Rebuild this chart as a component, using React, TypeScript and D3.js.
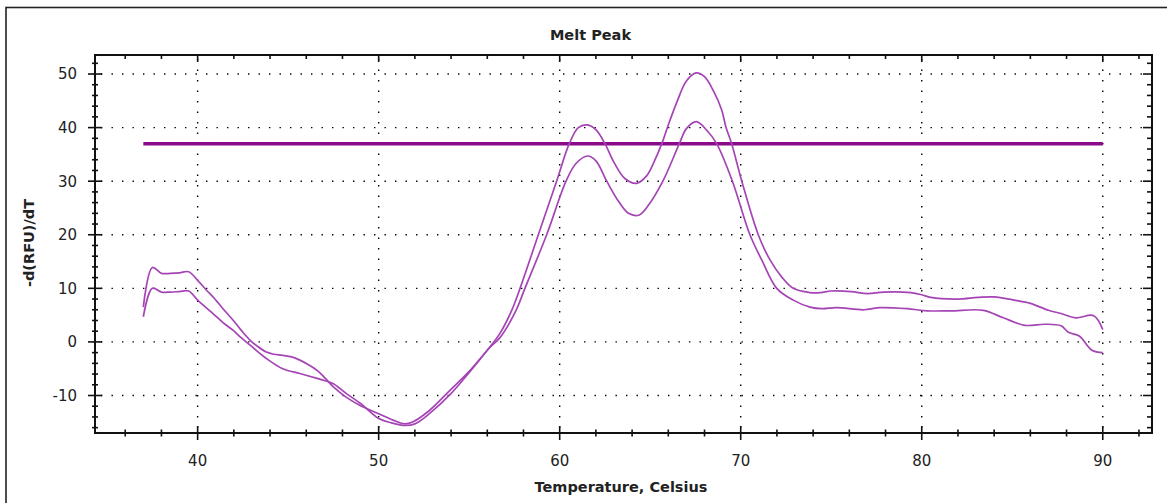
import React from 'react';
import * as d3 from 'd3';

const upperTemps = [37.0, 37.5, 38.0, 38.5, 39.0, 39.5, 40.0, 40.5, 40.85, 41.4, 41.95, 42.4, 42.9, 43.3, 43.8, 44.2, 44.7, 45.2, 45.65, 46.1, 46.6, 47.0, 47.5, 48.2, 49.0, 50.0, 50.8, 51.45, 51.9, 52.8, 53.95, 55.05, 56.15, 56.7, 57.35, 57.81, 58.82, 59.83, 60.53, 61.03, 61.52, 62.0, 62.5, 63.0, 63.6, 64.25, 64.8, 65.2, 65.64, 66.0, 66.5, 67.0, 67.53, 68.0, 68.5, 68.95, 69.19, 69.5, 70.06, 70.97, 71.62, 72.27, 72.9, 73.83, 74.4, 75.0, 76.1, 77.0, 77.9, 79.4, 80.0, 80.5, 82.0, 83.1, 84.0, 85.1, 86.0, 87.0, 87.7, 88.5, 89.5, 90.0];
const upperValues = [6.5, 13.9, 12.8, 12.8, 12.9, 13.1, 11.5, 9.6, 8.4, 6.2, 4.1, 2.2, 0.3, -0.8, -1.9, -2.3, -2.5, -2.8, -3.4, -4.2, -5.3, -6.6, -8.4, -10.3, -11.9, -13.4, -14.6, -15.3, -14.9, -12.8, -9.0, -5.3, -0.9, 1.6, 5.9, 10.0, 20.0, 30.0, 37.0, 40.0, 40.5, 39.6, 37.0, 33.5, 30.5, 29.6, 31.0, 33.5, 37.0, 40.5, 45.0, 48.7, 50.2, 49.5, 46.8, 43.3, 40.0, 37.0, 30.0, 20.0, 15.3, 12.1, 10.0, 9.2, 9.2, 9.5, 9.4, 9.0, 9.3, 9.2, 8.8, 8.3, 8.0, 8.3, 8.4, 7.8, 7.2, 5.9, 5.3, 4.5, 4.9, 2.3];

const lowerTemps = [37.0, 37.5, 38.0, 38.5, 39.0, 39.5, 40.0, 40.85, 41.4, 41.95, 42.4, 42.9, 43.8, 44.7, 45.65, 46.6, 47.0, 47.5, 48.2, 49.0, 50.0, 50.7, 51.45, 52.0, 52.8, 53.95, 55.05, 56.15, 56.7, 57.59, 58.08, 59.28, 60.35, 60.9, 61.55, 62.0, 62.6, 63.2, 63.8, 64.4, 64.9, 65.7, 66.61, 67.0, 67.55, 68.1, 68.67, 69.54, 70.51, 71.16, 71.99, 72.9, 73.83, 74.5, 75.3, 76.8, 77.7, 79.2, 80.3, 81.6, 83.4, 84.5, 85.7, 86.8, 87.7, 88.1, 88.7, 89.4, 90.0];
const lowerValues = [4.7, 10.0, 9.3, 9.3, 9.4, 9.5, 7.8, 5.3, 3.6, 2.2, 0.8, -0.6, -3.1, -5.0, -5.9, -6.8, -7.2, -7.8, -9.6, -11.5, -14.3, -15.1, -15.6, -15.3, -13.4, -9.8, -5.5, -1.0, 0.8, 5.9, 10.0, 20.0, 30.0, 33.3, 34.7, 33.8, 30.0, 26.5, 24.0, 23.7, 25.5, 30.0, 37.0, 39.8, 41.1, 39.6, 37.0, 30.0, 20.0, 15.3, 10.0, 7.8, 6.5, 6.2, 6.4, 6.0, 6.4, 6.2, 5.8, 5.8, 5.9, 4.5, 3.1, 3.3, 3.0, 1.8, 1.1, -1.55, -2.0];

const thresholdValue = 37;
const thresholdStart = 37;
const thresholdEnd = 90;

const xTickValues = [40, 50, 60, 70, 80, 90];
const yTickValues = [-10, 0, 10, 20, 30, 40, 50];
const xMinorTicks = d3.range(36, 93, 2);
const yMinorTicks = d3.range(-16, 53, 2);

const chartTitle = 'Melt Peak';
const xTitle = 'Temperature, Celsius';
const yTitle = '-d(RFU)/dT';

export default function App() {
  const W = 1167, H = 503;
  const left = 95, right = 1152, top = 55, bottom = 433;
  const x = d3.scaleLinear().domain([34.33, 92.72]).range([left, right]);
  const y = d3.scaleLinear().domain([-17.0, 53.55]).range([bottom, top]);

  const line = d3.line<[number, number]>()
    .x(d => x(d[0]))
    .y(d => y(d[1]))
    .curve(d3.curveCatmullRom.alpha(0.5));

  const upper: [number, number][] = upperTemps.map((t, i) => [t, upperValues[i]]);
  const lower: [number, number][] = lowerTemps.map((t, i) => [t, lowerValues[i]]);

  const font = "'DejaVu Sans', sans-serif";
  const textColor = '#222';

  return (
    <svg width={W} height={H} style={{ position: 'absolute', left: 0, top: 0, background: '#fff' }}>
      <rect x={0} y={0} width={W} height={H} fill="#fff" />
      <rect x={6} y={7.5} width={1300} height={700} fill="none" stroke="#222" strokeWidth={1.6} />

      {/* grid */}
      <g stroke="#000" strokeWidth={1.4} strokeDasharray="1.4 9.1">
        {yTickValues.map(v => (
          <line key={'gy' + v} x1={left + 6} x2={right} y1={y(v)} y2={y(v)} />
        ))}
        {xTickValues.map(v => (
          <line key={'gx' + v} x1={x(v)} x2={x(v)} y1={top + 4} y2={bottom} />
        ))}
      </g>

      {/* threshold */}
      <line x1={x(thresholdStart)} x2={x(thresholdEnd)} y1={y(thresholdValue)} y2={y(thresholdValue)}
        stroke="#8a0a8a" strokeWidth={3.5} />

      {/* curves */}
      <path d={line(upper) || ''} fill="none" stroke="#a545b5" strokeWidth={1.7} strokeLinejoin="round" />
      <path d={line(lower) || ''} fill="none" stroke="#a545b5" strokeWidth={1.7} strokeLinejoin="round" />

      {/* frame */}
      <rect x={left} y={top} width={right - left} height={bottom - top} fill="none" stroke="#111" strokeWidth={2} />

      {/* ticks */}
      <g stroke="#111" strokeWidth={1.6}>
        {xMinorTicks.map(v => {
          const major = v % 10 === 0;
          const xv = x(v);
          return (
            <g key={'xt' + v}>
              <line x1={xv} x2={xv} y1={bottom - (major ? 7 : 3.5)} y2={bottom + (major ? 7 : 3.5)} />
              <line x1={xv} x2={xv} y1={top} y2={top + (major ? 7 : 4)} />
            </g>
          );
        })}
        {yMinorTicks.map(v => {
          const major = v % 10 === 0;
          const yv = y(v);
          return (
            <g key={'yt' + v}>
              <line x1={left - (major ? 7 : 3)} x2={left + (major ? 7 : 3)} y1={yv} y2={yv} />
              <line x1={right - (major ? 9 : 5)} x2={right} y1={yv} y2={yv} />
            </g>
          );
        })}
      </g>

      {/* tick labels */}
      <g fontFamily={font} fontSize={15} fill={textColor}>
        {xTickValues.map(v => (
          <text key={'xl' + v} x={x(v)} y={466} textAnchor="middle">{v}</text>
        ))}
        {yTickValues.map(v => (
          <text key={'yl' + v} x={77} y={y(v)} dy="0.36em" textAnchor="end">{v}</text>
        ))}
      </g>

      {/* titles */}
      <text x={590.5} y={40} textAnchor="middle" fontFamily={font} fontWeight="bold" fontSize={14.5} fill={textColor}>{chartTitle}</text>
      <text x={621} y={492} textAnchor="middle" fontFamily={font} fontWeight="bold" fontSize={14.5} fill={textColor}>{xTitle}</text>
      <text transform="translate(34,243) rotate(-90)" textAnchor="middle" fontFamily={font} fontWeight="bold" fontSize={14.5} fill={textColor}>{yTitle}</text>
    </svg>
  );
}
